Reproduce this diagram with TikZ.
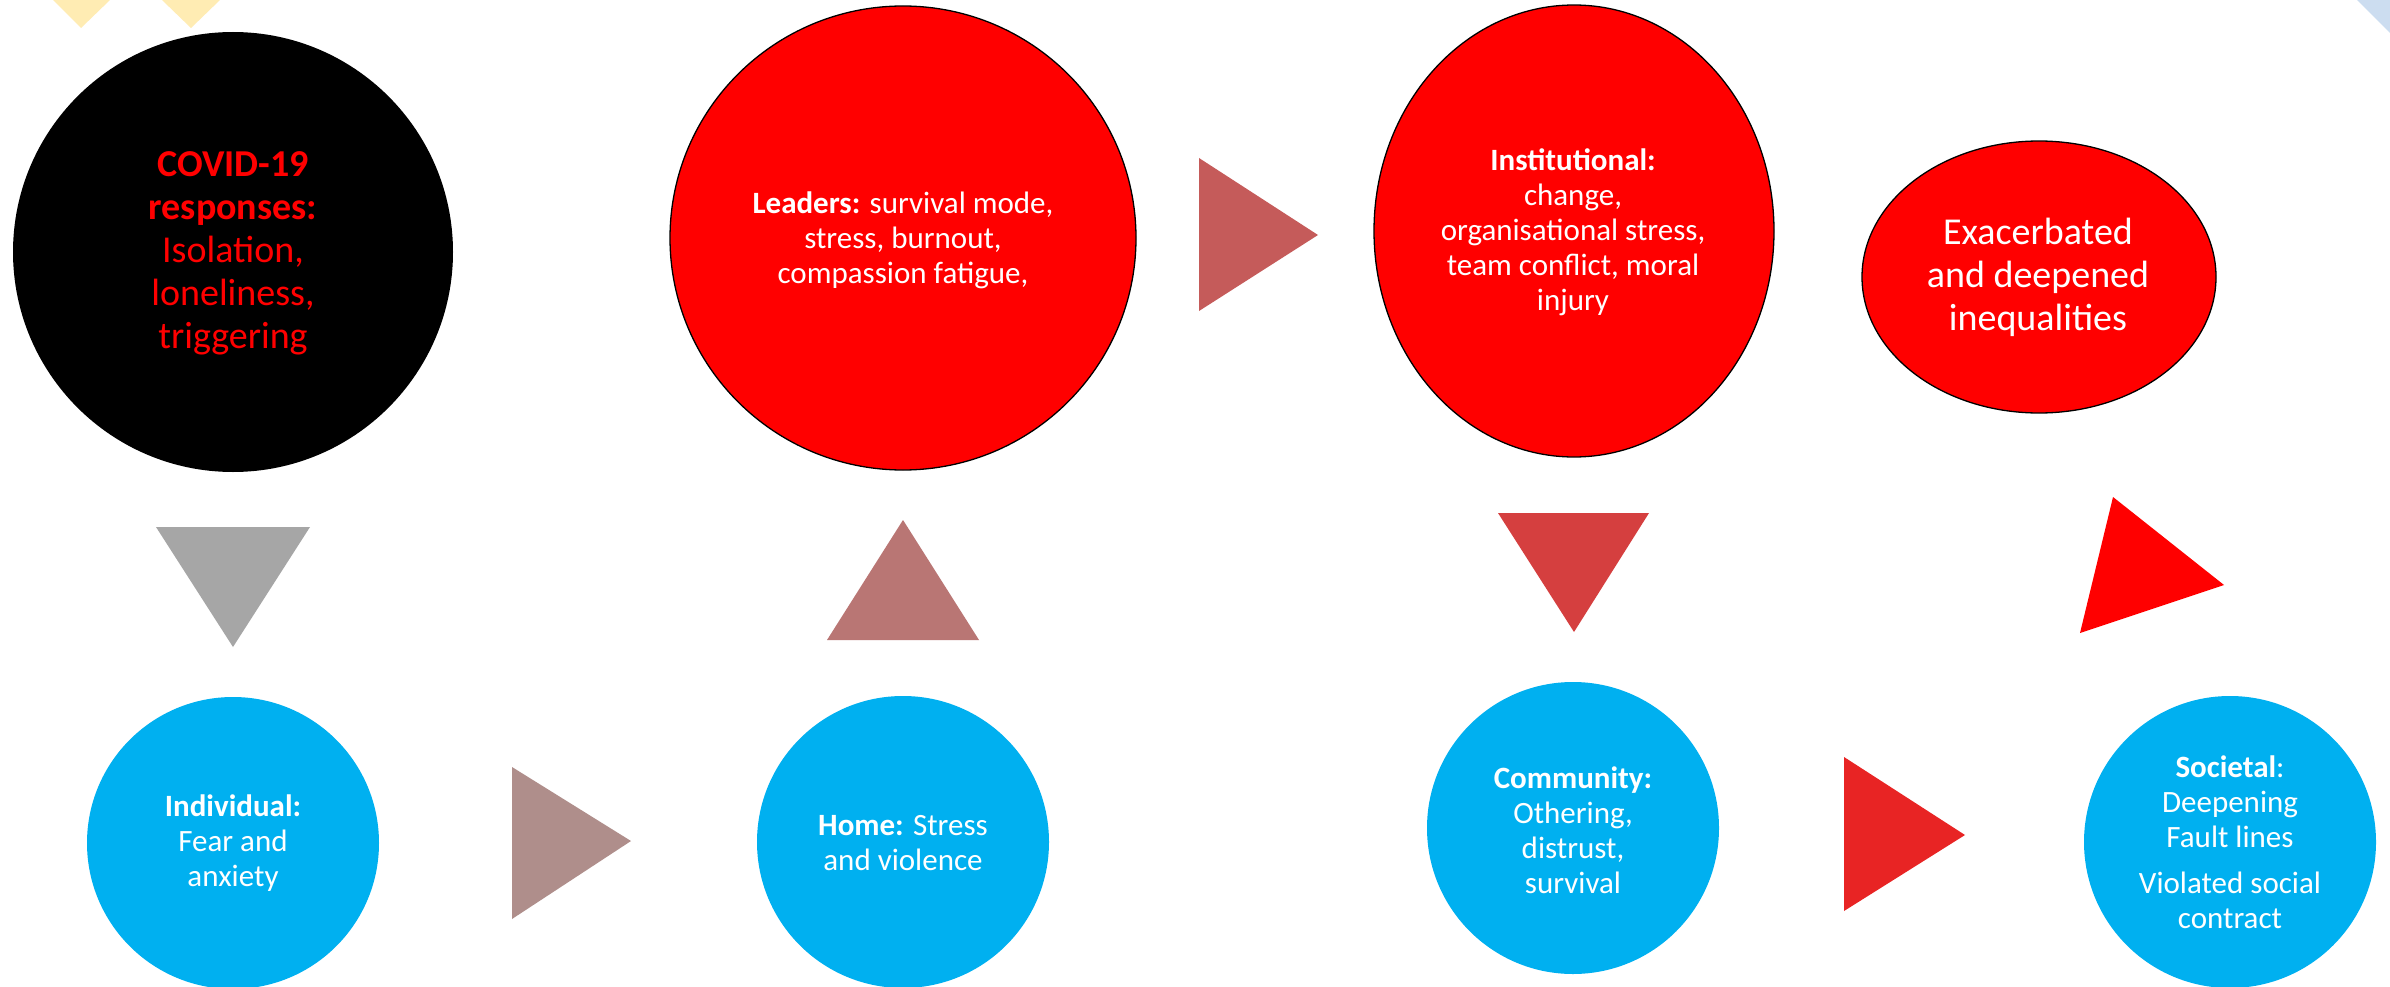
\documentclass[tikz,border=0pt]{standalone}
\usepackage{fontspec}
\setmainfont{Carlito}
\usetikzlibrary{shapes.geometric}
\definecolor{cred}{RGB}{255,0,0}
\definecolor{cblue}{RGB}{0,176,240}
\definecolor{cyel}{RGB}{255,236,179}
\definecolor{clblue}{RGB}{204,221,240}
\definecolor{tgrey}{RGB}{166,166,166}
\definecolor{tmauve}{RGB}{175,142,139}
\definecolor{trose}{RGB}{185,118,116}
\definecolor{tbrick}{RGB}{197,91,90}
\definecolor{tdark}{RGB}{213,63,63}
\definecolor{tbright}{RGB}{232,36,36}
\begin{document}
\begin{tikzpicture}[x=1pt,y=-1pt,
  blob/.style={ellipse, inner sep=0pt, outer sep=0pt},
  redblob/.style={blob, fill=cred, draw=black, line width=1.3pt},
  blueblob/.style={blob, fill=cblue, minimum width=292pt, minimum height=292pt},
  txt/.style={align=center, text=white, font=\fontsize{31}{35}\selectfont, inner sep=0pt},
  bigtxt/.style={txt, font=\fontsize{38}{43}\selectfont}]
\useasboundingbox (0,0) rectangle (2390,987);
\fill[white] (0,0) rectangle (2390,987);
% corner decorations
\fill[cyel] (53,0) -- (81,28) -- (110,0) -- cycle;
\fill[cyel] (162,0) -- (191,28) -- (220,0) -- cycle;
\fill[clblue] (2357,0) -- (2390,33) -- (2390,0) -- cycle;
% top row
\node[blob, fill=black, minimum width=440pt, minimum height=440pt] (covid) at (233,252) {};
\node[redblob, minimum width=466pt, minimum height=464pt] (leaders) at (903,238) {};
\node[redblob, minimum width=400pt, minimum height=452pt] (inst) at (1574,231) {};
\node[redblob, minimum width=354pt, minimum height=272pt] (exac) at (2039,277) {};
% bottom row
\node[blueblob] (indiv) at (233,843) {};
\node[blueblob] (home) at (903,842) {};
\node[blueblob] (comm) at (1573,828) {};
\node[blueblob] (soc) at (2230,842) {};
% texts
\node[bigtxt, text=cred] (covidt) at (233,253) {\textbf{COVID-19}\\\textbf{responses:}\\Isolation,\\loneliness,\\triggering};
\node[txt] (leaderst) at (903,240) {\textbf{Leaders:} survival mode,\\stress, burnout,\\compassion fatigue,};
\node[txt] (instt) at (1573,232) {\textbf{Institutional:}\\change,\\organisational stress,\\team conflict, moral\\injury};
\node[bigtxt] (exact) at (2038,277) {Exacerbated\\and deepened\\inequalities};
\node[txt] (indivt) at (233,843) {\textbf{Individual:}\\Fear and\\anxiety};
\node[txt] (homet) at (903,843) {\textbf{Home:} Stress\\and violence};
\node[txt] (commt) at (1573,830) {\textbf{Community:}\\Othering,\\distrust,\\survival};
\node[txt] (soct) at (2230,842) {\textbf{Societal}:\\Deepening\\Fault lines\\[11pt]Violated social\\contract};
% arrow triangles
\fill[tgrey] (156,527) -- (310,527) -- (233,647) -- cycle;
\fill[tmauve] (512,767) -- (631,841) -- (512,919) -- cycle;
\fill[trose] (827,640) -- (979,640) -- (903,520) -- cycle;
\fill[tbrick] (1199,158) -- (1318,235) -- (1199,311) -- cycle;
\fill[tdark] (1498,513) -- (1649,513) -- (1574,632) -- cycle;
\fill[tbright] (1844,757) -- (1965,835) -- (1844,911) -- cycle;
\fill[cred] (2113,497) -- (2224,585) -- (2080,633) -- cycle;
\end{tikzpicture}
\end{document}
